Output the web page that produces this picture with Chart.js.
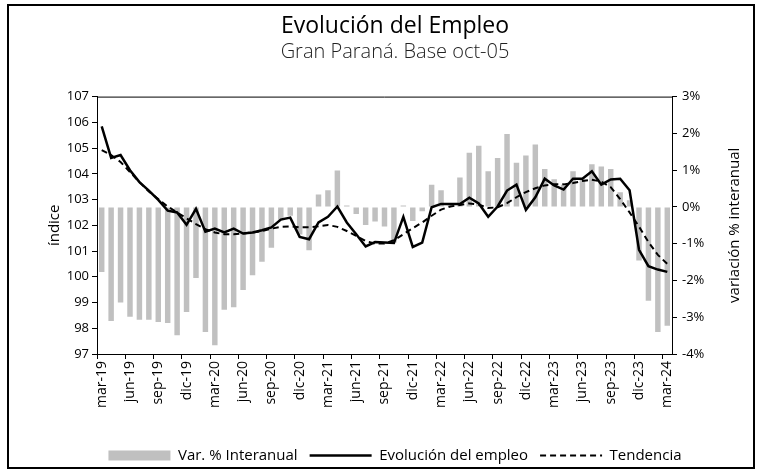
<!DOCTYPE html>
<html lang="es">
<head>
<meta charset="utf-8">
<title>Evolución del Empleo</title>
<script src="https://cdn.jsdelivr.net/npm/chart.js@4.4.1/dist/chart.umd.min.js"></script>
<style>
  html, body { margin: 0; padding: 0; background: #fff; }
  #wrap { position: relative; width: 761px; height: 473px; }
  #frame {
    position: absolute; left: 7px; top: 4px; width: 744px; height: 461px;
    border: 2px solid #000; pointer-events: none;
  }
  canvas { position: absolute; left: 0; top: 0; }
</style>
</head>
<body>
<div id="wrap">
  <canvas id="empleoChart" width="761" height="473"></canvas>
  <div id="frame"></div>
</div>
<script>
// meses mar-19 .. mar-24
const meses = [
  "mar-19","abr-19","may-19","jun-19","jul-19","ago-19","sep-19","oct-19","nov-19","dic-19",
  "ene-20","feb-20","mar-20","abr-20","may-20","jun-20","jul-20","ago-20","sep-20","oct-20","nov-20","dic-20",
  "ene-21","feb-21","mar-21","abr-21","may-21","jun-21","jul-21","ago-21","sep-21","oct-21","nov-21","dic-21",
  "ene-22","feb-22","mar-22","abr-22","may-22","jun-22","jul-22","ago-22","sep-22","oct-22","nov-22","dic-22",
  "ene-23","feb-23","mar-23","abr-23","may-23","jun-23","jul-23","ago-23","sep-23","oct-23","nov-23","dic-23",
  "ene-24","feb-24","mar-24"
];

// variación % interanual (eje derecho)
const varInteranual = [
  -1.77, -3.10, -2.60, -2.99, -3.07, -3.07, -3.13, -3.16, -3.49, -2.86,
  -1.93, -3.40, -3.76, -2.80, -2.73, -2.26, -1.86, -1.49, -1.11, -0.35, -0.24, -0.75,
  -1.18, 0.34, 0.45, 0.99, 0.04, -0.19, -0.49, -0.40, -0.53, -0.97, 0.04, -0.38,
  -0.12, 0.60, 0.45, 0.05, 0.80, 1.47, 1.66, 0.97, 1.33, 1.98, 1.20, 1.40,
  1.70, 1.03, 0.75, 0.60, 0.97, 0.75, 1.16, 1.10, 1.03, 0.40, 0.18, -1.46,
  -2.55, -3.40, -3.23
];

// índice de empleo (eje izquierdo)
const indiceEmpleo = [
  105.84, 104.62, 104.73, 104.14, 103.68, 103.35, 102.99, 102.57, 102.50, 102.02,
  102.64, 101.75, 101.87, 101.72, 101.87, 101.68, 101.72, 101.81, 101.92, 102.22, 102.30, 101.55,
  101.46, 102.11, 102.33, 102.73, 102.11, 101.65, 101.18, 101.35, 101.33, 101.31, 102.33, 101.16,
  101.33, 102.70, 102.83, 102.83, 102.83, 103.07, 102.85, 102.33, 102.73, 103.35, 103.58, 102.60,
  103.09, 103.81, 103.55, 103.39, 103.81, 103.81, 104.10, 103.58, 103.78, 103.81, 103.36, 101.05,
  100.41, 100.28, 100.19
];

const tendencia = [
  104.92, 104.73, 104.46, 104.07, 103.68, 103.31, 103.02, 102.73, 102.50, 102.27,
  102.05, 101.85, 101.72, 101.65, 101.65, 101.68, 101.72, 101.78, 101.87, 101.94, 101.96, 101.92,
  101.92, 101.96, 102.01, 101.94, 101.78, 101.59, 101.39, 101.29, 101.29, 101.42, 101.65, 101.89,
  102.11, 102.37, 102.61, 102.73, 102.79, 102.85, 102.81, 102.67, 102.70, 102.86, 103.09, 103.29,
  103.44, 103.55, 103.59, 103.59, 103.64, 103.72, 103.77, 103.70, 103.48, 103.02, 102.50, 101.95,
  101.35, 100.85, 100.50
];

const FONT = "'Open Sans', sans-serif";

// borde superior del área de trazado y título del eje derecho (leído de abajo hacia arriba)
const extras = {
  id: "extras",
  afterDatasetsDraw(chart) {
    const { ctx, chartArea } = chart;
    ctx.save();
    ctx.strokeStyle = "#000";
    ctx.lineWidth = 1;
    ctx.beginPath();
    ctx.moveTo(chartArea.left, chartArea.top + 0.5);
    ctx.lineTo(chartArea.right, chartArea.top + 0.5);
    ctx.stroke();
    ctx.restore();
  },
  afterDraw(chart) {
    const { ctx, chartArea } = chart;
    const y1 = chart.scales.y1;
    ctx.save();
    ctx.translate(y1.right - 9, (chartArea.top + chartArea.bottom) / 2);
    ctx.rotate(-Math.PI / 2);
    ctx.font = "15px " + FONT;
    ctx.fillStyle = "#000";
    ctx.textAlign = "center";
    ctx.textBaseline = "middle";
    ctx.fillText("variación % interanual", 0, 0);
    ctx.restore();
  }
};

new Chart(document.getElementById("empleoChart"), {
  data: {
    labels: meses,
    datasets: [
      {
        type: "bar",
        label: "Var. % Interanual",
        data: varInteranual,
        yAxisID: "y1",
        backgroundColor: "#c0c0c0",
        categoryPercentage: 1,
        barPercentage: 0.58,
        order: 3
      },
      {
        type: "line",
        label: "Evolución del empleo",
        data: indiceEmpleo,
        yAxisID: "y",
        borderColor: "#000",
        borderWidth: 2.5,
        pointRadius: 0,
        tension: 0,
        order: 1
      },
      {
        type: "line",
        label: "Tendencia",
        data: tendencia,
        yAxisID: "y",
        borderColor: "#000",
        borderWidth: 2,
        borderDash: [6, 4],
        pointRadius: 0,
        tension: 0,
        order: 2
      }
    ]
  },
  options: {
    responsive: false,
    animation: false,
    devicePixelRatio: 1,
    layout: { padding: { left: 46, right: 17, top: 0, bottom: 0 } },
    plugins: {
      title: {
        display: true,
        text: "Evolución del Empleo",
        color: "#000",
        font: { family: FONT, size: 23, weight: "normal" },
        padding: { top: 13, bottom: 0 }
      },
      subtitle: {
        display: true,
        text: "Gran Paraná. Base oct-05",
        color: "#222",
        font: { family: FONT, size: 20, weight: "300" },
        padding: { top: 0, bottom: 32 }
      },
      legend: {
        position: "bottom",
        labels: {
          color: "#000",
          font: { family: FONT, size: 15 },
          usePointStyle: true,
          pointStyleWidth: 62,
          boxHeight: 10,
          padding: 12,
          sort: (a, b) => a.datasetIndex - b.datasetIndex,
          generateLabels(chart) {
            const items = Chart.defaults.plugins.legend.labels.generateLabels(chart);
            return items.map(it => {
              const ds = chart.data.datasets[it.datasetIndex];
              if (ds.type === "bar") {
                it.pointStyle = "rect";
                it.fillStyle = ds.backgroundColor;
                it.strokeStyle = ds.backgroundColor;
                it.lineWidth = 0;
              } else {
                it.pointStyle = "line";
                it.strokeStyle = ds.borderColor;
                it.lineWidth = ds.borderWidth;
                it.lineDash = ds.borderDash || [];
              }
              return it;
            });
          }
        }
      },
      tooltip: { enabled: false }
    },
    scales: {
      x: {
        type: "category",
        offset: true,
        border: { color: "#000", width: 1 },
        grid: {
          offset: true,
          drawOnChartArea: false,
          tickLength: 5,
          tickColor: ctx => (ctx.index % 3 === 0 ? "#000" : "rgba(0,0,0,0)")
        },
        ticks: {
          autoSkip: false,
          minRotation: 90,
          maxRotation: 90,
          color: "#000",
          font: { family: FONT, size: 14 },
          padding: 2,
          callback: function (val, i) { return i % 3 === 0 ? this.getLabelForValue(val) : ""; }
        },
        afterFit: s => { s.height = 82; }
      },
      y: {
        position: "left",
        min: 97,
        max: 107,
        border: { color: "#000", width: 1 },
        grid: { drawOnChartArea: false, tickLength: 5, tickColor: "#000" },
        ticks: { stepSize: 1, color: "#000", font: { family: FONT, size: 13 }, padding: 3 },
        title: { display: true, text: "índice", color: "#000", font: { family: FONT, size: 15 }, padding: 0 },
        afterFit: s => { s.width = 51; }
      },
      y1: {
        position: "right",
        min: -4,
        max: 3,
        border: { color: "#000", width: 1 },
        grid: { drawOnChartArea: false, tickLength: 5, tickColor: "#000" },
        ticks: {
          stepSize: 1,
          color: "#000",
          font: { family: FONT, size: 13 },
          padding: 5,
          callback: v => v + "%"
        },
        afterFit: s => { s.width = 72; }
      }
    }
  },
  plugins: [extras]
});
</script>
</body>
</html>
